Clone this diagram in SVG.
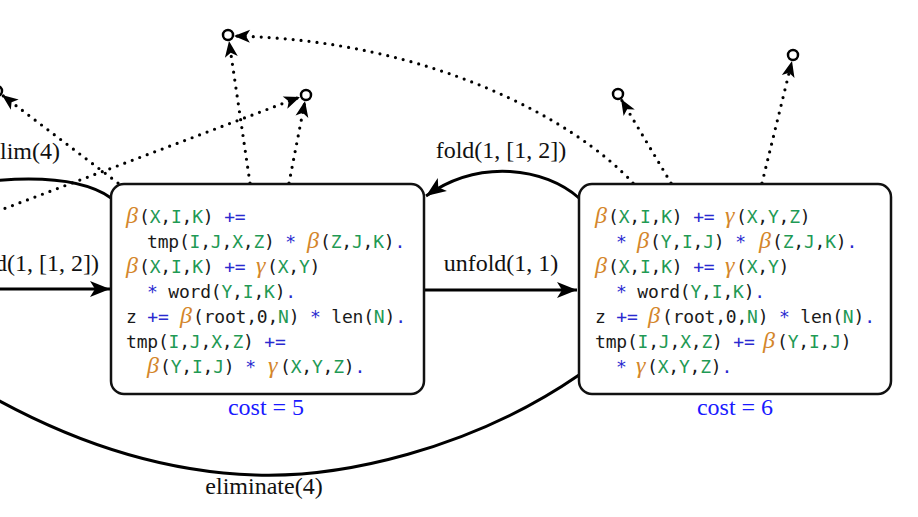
<svg xmlns="http://www.w3.org/2000/svg" width="918" height="517" viewBox="0 0 918 517">
  <style>
    .box { fill: #ffffff; stroke: #111; stroke-width: 2.5; }
    .code { font-family: "DejaVu Sans Mono", "Liberation Mono", monospace; font-size: 18px; letter-spacing: -0.2px; fill: #1a1a1a; }
    .g { font-family: "Liberation Serif", serif; font-style: italic; font-size: 24px; fill: #d4862a; letter-spacing: 0; }
    .v { fill: #1f9a55; }
    .o { fill: #2a2ad0; }
    .lbl { font-family: "Liberation Serif", serif; font-size: 24px; fill: #111; }
    .cost { font-family: "Liberation Serif", serif; font-size: 24px; fill: #1a1aff; text-anchor: middle; }
    .solid { fill: none; stroke: #000; stroke-width: 3; }
    .dots { fill: none; stroke: #000; stroke-width: 3.2; stroke-dasharray: 0 8; stroke-linecap: round; }
    .end { fill: #fff; stroke: #000; stroke-width: 2.5; }
  </style>
  <defs>
    <marker id="arrow" markerUnits="userSpaceOnUse" viewBox="-22 -10 24 20" refX="0" refY="0" markerWidth="24" markerHeight="20" orient="auto">
      <path d="M0,0 L-20,-8 L-15,0 L-20,8 Z" fill="#000"/>
    </marker>
    <marker id="arrow-sm" markerUnits="userSpaceOnUse" viewBox="-18 -9 20 18" refX="0" refY="0" markerWidth="20" markerHeight="18" orient="auto">
      <path d="M0,0 L-16,-6.5 L-12,0 L-16,6.5 Z" fill="#000"/>
    </marker>
  </defs>

  <!-- connectors -->
  <g id="connectors">
    <!-- solid transitions -->
    <path class="solid" d="M -5 289 L 110 289" marker-end="url(#arrow)"/>
    <path class="solid" d="M 111 198 C 90 183, 55 175, -10 181"/>
    <path class="solid" d="M 424 290 L 577 290" marker-end="url(#arrow)"/>
    <path class="solid" d="M 579 198 C 545 168, 480 158, 426 196" marker-end="url(#arrow)"/>
    <path class="solid" d="M 579 375 C 470 450, 340 478, 255 475 C 165 472, 75 445, -20 390"/>
    <!-- dotted transitions to open ends -->
    <path class="dots" d="M 118 183 L 2 95" marker-end="url(#arrow-sm)"/>
    <path class="dots" d="M -10 214 L 300 97" marker-end="url(#arrow-sm)"/>
    <path class="dots" d="M 250 183 L 229 41" marker-end="url(#arrow-sm)"/>
    <path class="dots" d="M 289 183 L 305 101" marker-end="url(#arrow-sm)"/>
    <path class="dots" d="M 633 183 C 575 120, 430 40, 234 36" marker-end="url(#arrow-sm)"/>
    <path class="dots" d="M 671 183 L 621 99" marker-end="url(#arrow-sm)"/>
    <path class="dots" d="M 762 183 L 792 61" marker-end="url(#arrow-sm)"/>
  </g>

  <!-- open end points -->
  <g id="end-left"><circle class="end" cx="-3" cy="91" r="5"/></g>
  <g id="end-a"><circle class="end" cx="228" cy="35" r="5"/></g>
  <g id="end-b"><circle class="end" cx="306" cy="95" r="5"/></g>
  <g id="end-c"><circle class="end" cx="618" cy="94" r="5"/></g>
  <g id="end-d"><circle class="end" cx="793" cy="55" r="5"/></g>

  <!-- edge labels -->
  <g id="labels">
    <text class="lbl" x="0" y="159">lim(4)</text>
    <text class="lbl" x="99" y="271" text-anchor="end">d(1, [1, 2])</text>
    <text class="lbl" x="501" y="158" text-anchor="middle">fold(1, [1, 2])</text>
    <text class="lbl" x="501" y="271" text-anchor="middle">unfold(1, 1)</text>
    <text class="lbl" x="264" y="494" text-anchor="middle">eliminate(4)</text>
  </g>

  <!-- program with cost 5 -->
  <g id="node-cost5">
    <rect class="box" x="111" y="184" width="313" height="210" rx="13"/>
    <text class="code" y="223"><tspan class="g" x="126">β</tspan><tspan x="139">(<tspan class="v">X</tspan>,<tspan class="v">I</tspan>,<tspan class="v">K</tspan>) <tspan class="o">+=</tspan></tspan></text>
    <text class="code" y="248"><tspan x="147">tmp(<tspan class="v">I</tspan>,<tspan class="v">J</tspan>,<tspan class="v">X</tspan>,<tspan class="v">Z</tspan>) <tspan class="o">*</tspan></tspan><tspan class="g" x="307">β</tspan><tspan x="320">(<tspan class="v">Z</tspan>,<tspan class="v">J</tspan>,<tspan class="v">K</tspan>)<tspan class="o">.</tspan></tspan></text>
    <text class="code" y="273"><tspan class="g" x="126">β</tspan><tspan x="139">(<tspan class="v">X</tspan>,<tspan class="v">I</tspan>,<tspan class="v">K</tspan>) <tspan class="o">+=</tspan></tspan><tspan class="g" x="256">γ</tspan><tspan x="267">(<tspan class="v">X</tspan>,<tspan class="v">Y</tspan>)</tspan></text>
    <text class="code" y="298"><tspan x="147"><tspan class="o">*</tspan> word(<tspan class="v">Y</tspan>,<tspan class="v">I</tspan>,<tspan class="v">K</tspan>)<tspan class="o">.</tspan></tspan></text>
    <text class="code" y="323"><tspan x="126">z <tspan class="o">+=</tspan></tspan><tspan class="g" x="180">β</tspan><tspan x="193">(root,0,<tspan class="v">N</tspan>) <tspan class="o">*</tspan> len(<tspan class="v">N</tspan>)<tspan class="o">.</tspan></tspan></text>
    <text class="code" y="348"><tspan x="126">tmp(<tspan class="v">I</tspan>,<tspan class="v">J</tspan>,<tspan class="v">X</tspan>,<tspan class="v">Z</tspan>) <tspan class="o">+=</tspan></tspan></text>
    <text class="code" y="373"><tspan class="g" x="147">β</tspan><tspan x="160">(<tspan class="v">Y</tspan>,<tspan class="v">I</tspan>,<tspan class="v">J</tspan>) <tspan class="o">*</tspan></tspan><tspan class="g" x="268">γ</tspan><tspan x="280">(<tspan class="v">X</tspan>,<tspan class="v">Y</tspan>,<tspan class="v">Z</tspan>)<tspan class="o">.</tspan></tspan></text>
    <text class="cost" x="266" y="415">cost = 5</text>
  </g>

  <!-- program with cost 6 -->
  <g id="node-cost6">
    <rect class="box" x="579" y="184" width="312" height="210" rx="13"/>
    <text class="code" y="223"><tspan class="g" x="595">β</tspan><tspan x="608">(<tspan class="v">X</tspan>,<tspan class="v">I</tspan>,<tspan class="v">K</tspan>) <tspan class="o">+=</tspan></tspan><tspan class="g" x="725">γ</tspan><tspan x="736">(<tspan class="v">X</tspan>,<tspan class="v">Y</tspan>,<tspan class="v">Z</tspan>)</tspan></text>
    <text class="code" y="248"><tspan x="616" class="o">*</tspan><tspan class="g" x="637">β</tspan><tspan x="650">(<tspan class="v">Y</tspan>,<tspan class="v">I</tspan>,<tspan class="v">J</tspan>) <tspan class="o">*</tspan></tspan><tspan class="g" x="759">β</tspan><tspan x="772">(<tspan class="v">Z</tspan>,<tspan class="v">J</tspan>,<tspan class="v">K</tspan>)<tspan class="o">.</tspan></tspan></text>
    <text class="code" y="273"><tspan class="g" x="595">β</tspan><tspan x="608">(<tspan class="v">X</tspan>,<tspan class="v">I</tspan>,<tspan class="v">K</tspan>) <tspan class="o">+=</tspan></tspan><tspan class="g" x="725">γ</tspan><tspan x="736">(<tspan class="v">X</tspan>,<tspan class="v">Y</tspan>)</tspan></text>
    <text class="code" y="298"><tspan x="616"><tspan class="o">*</tspan> word(<tspan class="v">Y</tspan>,<tspan class="v">I</tspan>,<tspan class="v">K</tspan>)<tspan class="o">.</tspan></tspan></text>
    <text class="code" y="323"><tspan x="595">z <tspan class="o">+=</tspan></tspan><tspan class="g" x="648">β</tspan><tspan x="662">(root,0,<tspan class="v">N</tspan>) <tspan class="o">*</tspan> len(<tspan class="v">N</tspan>)<tspan class="o">.</tspan></tspan></text>
    <text class="code" y="348"><tspan x="595">tmp(<tspan class="v">I</tspan>,<tspan class="v">J</tspan>,<tspan class="v">X</tspan>,<tspan class="v">Z</tspan>) <tspan class="o">+=</tspan></tspan><tspan class="g" x="763">β</tspan><tspan x="777">(<tspan class="v">Y</tspan>,<tspan class="v">I</tspan>,<tspan class="v">J</tspan>)</tspan></text>
    <text class="code" y="373"><tspan x="616" class="o">*</tspan><tspan class="g" x="636">γ</tspan><tspan x="647">(<tspan class="v">X</tspan>,<tspan class="v">Y</tspan>,<tspan class="v">Z</tspan>)<tspan class="o">.</tspan></tspan></text>
    <text class="cost" x="735" y="415">cost = 6</text>
  </g>
</svg>
